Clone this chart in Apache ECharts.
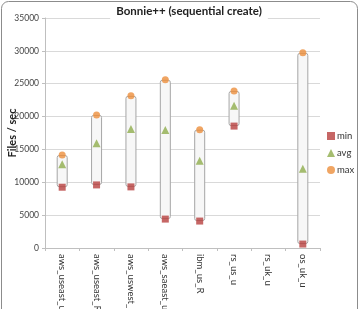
<!DOCTYPE html>
<html>
<head>
<meta charset="utf-8">
<script src="https://cdn.jsdelivr.net/npm/echarts@6/dist/echarts.min.js"></script>
<style>
html, body { margin: 0; padding: 0; background: #fff; }
#main { width: 360px; height: 309px; }
</style>
</head>
<body>
<div id="main"></div>
<script>
// data
var categories = ['aws_useast_u', 'aws_useast_R', 'aws_uswest_u', 'aws_saeast_u', 'ibm_us_R', 'rs_us_u', 'rs_uk_u', 'os_uk_u'];
var minVals = [9250, 9600, 9300, 4400, 4100, 18550, null, 600];
var avgVals = [12750, 15950, 18100, 17950, 13280, 21650, null, 12050];
var maxVals = [14150, 20250, 23150, 25600, 18000, 23900, null, 29700];
var yTicks = { min: 0, max: 35000, interval: 5000 };

var rangeVals = maxVals.map(function (v, i) {
    return v == null ? null : v - minVals[i];
});

var myChart = echarts.init(document.getElementById('main'));

var option = {
    animation: false,
    textStyle: { fontFamily: 'Lato, sans-serif' },
    title: {
        text: 'Bonnie++ (sequential create)',
        left: 183,
        textAlign: 'center',
        top: 3,
        padding: [2, 6],
        backgroundColor: '#fff',
        textStyle: { fontSize: 11.5, fontWeight: 'bold', color: '#222', fontFamily: 'Lato, sans-serif' }
    },
    legend: {
        orient: 'vertical',
        left: 322,
        top: 126,
        itemWidth: 8,
        itemHeight: 8,
        itemGap: 7,
        textStyle: { fontSize: 9.5, color: '#333', padding: [0, 0, 0, -3] },
        data: [
            { name: 'min', icon: 'rect' },
            { name: 'avg', icon: 'triangle' },
            { name: 'max', icon: 'circle' }
        ]
    },
    grid: { left: 45, right: 40, top: 18, bottom: 61, outerBoundsMode: 'none', containLabel: false },
    graphic: [{
        type: 'rect',
        shape: { x: 1.5, y: 1.5, width: 356, height: 330, r: 7 },
        style: { fill: 'none', stroke: '#8c8c8c', lineWidth: 1 },
        silent: true,
        z: -1
    }],
    xAxis: {
        type: 'category',
        data: categories,
        axisLine: { lineStyle: { color: '#bfbfbf' } },
        axisTick: { show: true, length: 3, lineStyle: { color: '#bfbfbf' } },
        axisLabel: { rotate: -90, fontSize: 9.5, color: '#333', margin: 6 }
    },
    yAxis: {
        type: 'value',
        min: yTicks.min,
        max: yTicks.max,
        interval: yTicks.interval,
        name: 'Files / sec',
        nameLocation: 'middle',
        nameGap: 27,
        nameMoveOverlap: false,
        nameTextStyle: { fontSize: 11, fontWeight: 'bold', color: '#222' },
        axisLine: { show: true, lineStyle: { color: '#bfbfbf' } },
        axisTick: { show: true, length: 3, lineStyle: { color: '#bfbfbf' } },
        axisLabel: { fontSize: 8.5, color: '#444', margin: 6, formatter: function (v) { return String(v); } },
        splitLine: { lineStyle: { color: '#d9d9d9' } }
    },
    series: [
        {
            name: 'base',
            type: 'bar',
            stack: 'box',
            barWidth: 11,
            silent: true,
            itemStyle: { color: 'transparent' },
            data: minVals
        },
        {
            name: 'range',
            type: 'bar',
            stack: 'box',
            barWidth: 11,
            silent: true,
            itemStyle: {
                color: '#f7f7f7',
                borderColor: '#a6a6a6',
                borderWidth: 1,
                borderRadius: 2
            },
            data: rangeVals
        },
        {
            name: 'min',
            type: 'scatter',
            symbol: 'rect',
            symbolSize: 7,
            itemStyle: { color: '#b8403e' },
            z: 5,
            data: minVals
        },
        {
            name: 'avg',
            type: 'scatter',
            symbol: 'triangle',
            symbolSize: 8,
            itemStyle: { color: '#8fad4c' },
            z: 5,
            data: avgVals
        },
        {
            name: 'max',
            type: 'scatter',
            symbol: 'circle',
            symbolSize: 7,
            itemStyle: { color: '#ec8e3c' },
            z: 5,
            data: maxVals
        }
    ]
};

myChart.setOption(option);
window.addEventListener('resize', myChart.resize);
</script>
</body>
</html>
